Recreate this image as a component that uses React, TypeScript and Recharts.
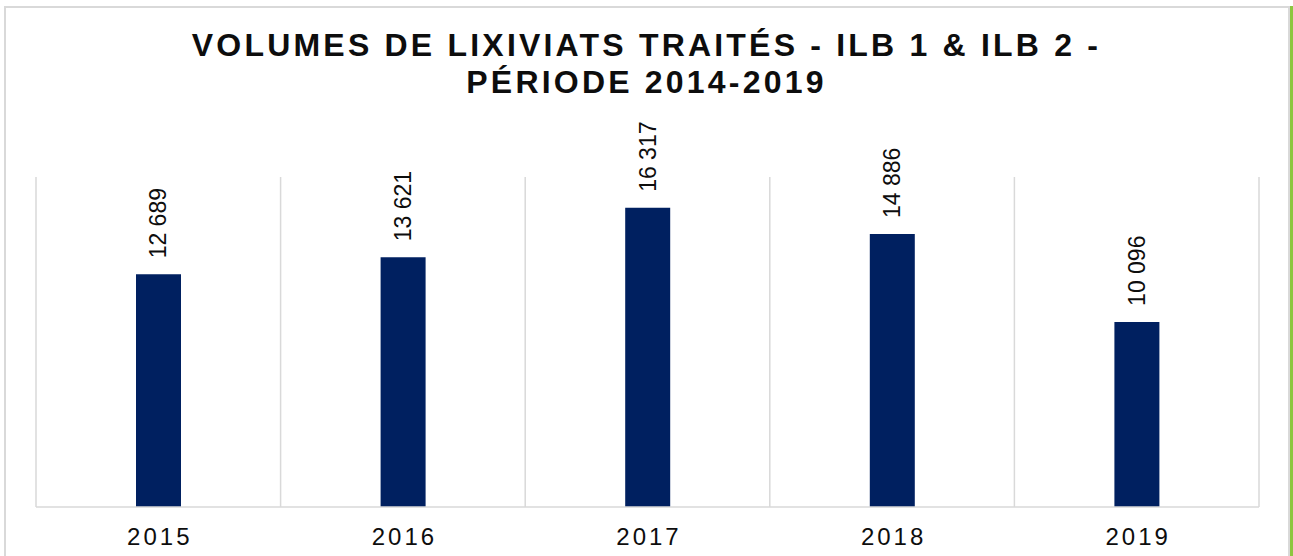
import { Bar, BarChart, CartesianGrid, LabelList, XAxis, YAxis } from 'recharts';

const YEARS = ['2015', '2016', '2017', '2018', '2019'];
const VOLUMES = [12689, 13621, 16317, 14886, 10096];
const TITLE_LINES = ['VOLUMES DE LIXIVIATS TRAITÉS - ILB 1 & ILB 2 -', 'PÉRIODE 2014-2019'];

const FONT = '"Liberation Sans", Arial, sans-serif';
const BAR_COLOR = '#002060';
const GRID_COLOR = '#d9d9d9';

const data = YEARS.map((year, i) => ({ year, value: VOLUMES[i] }));

const formatValue = (value: number) => String(value).replace(/\B(?=(\d{3})+(?!\d))/g, ' ');

const ValueLabel = (props: any) => {
  const { x, y, width, value } = props;
  const cx = Number(x) + Number(width) / 2;
  const ty = Number(y) - 16;
  return (
    <text
      x={cx}
      y={ty}
      transform={`rotate(-90, ${cx}, ${ty})`}
      textAnchor="start"
      dominantBaseline="central"
      fontSize={23}
      fontFamily={FONT}
      fill="#0d0d0d"
    >
      {formatValue(value)}
    </text>
  );
};

const YearTick = (props: any) => {
  const { x, y, payload } = props;
  return (
    <text
      x={x + 1.5}
      y={y}
      dy={30}
      textAnchor="middle"
      fontSize={24}
      fontFamily={FONT}
      letterSpacing={3}
      fill="#0d0d0d"
    >
      {payload.value}
    </text>
  );
};

export default function App() {
  return (
    <div style={{ position: 'absolute', top: 0, left: 0, width: 1293, height: 556, overflow: 'hidden', background: '#fff' }}>
      <div
        style={{
          position: 'absolute',
          left: 4,
          top: 6,
          width: 1282,
          height: 600,
          border: `2px solid ${GRID_COLOR}`,
        }}
      />
      <div style={{ position: 'absolute', left: 1290, top: 6, width: 3, height: 560, background: '#8cc63f' }} />
      <div
        style={{
          position: 'absolute',
          left: 0,
          top: 27,
          width: 1293,
          textAlign: 'center',
          fontFamily: FONT,
          fontWeight: 'bold',
          fontSize: 32,
          lineHeight: '37px',
          letterSpacing: 3.2,
          color: '#0d0d0d',
        }}
      >
        {TITLE_LINES.map((line) => (
          <div key={line}>{line}</div>
        ))}
      </div>
      <div style={{ position: 'absolute', left: 0, top: 0 }}>
        <BarChart width={1293} height={556} data={data} margin={{ top: 177, right: 34, left: 36, bottom: 8 }}>
          <CartesianGrid
            horizontal={false}
            stroke={GRID_COLOR}
            strokeWidth={1.5}
            verticalCoordinatesGenerator={({ offset }: any) =>
              YEARS.map((_, i) => offset.left + (i * offset.width) / YEARS.length).concat(offset.left + offset.width)
            }
          />
          <XAxis
            dataKey="year"
            height={41}
            tickLine={false}
            axisLine={{ stroke: GRID_COLOR, strokeWidth: 1.5 }}
            tick={<YearTick />}
            interval={0}
          />
          <YAxis hide domain={[0, 18000]} />
          <Bar dataKey="value" fill={BAR_COLOR} barSize={45} isAnimationActive={false}>
            <LabelList dataKey="value" content={<ValueLabel />} />
          </Bar>
        </BarChart>
      </div>
    </div>
  );
}
